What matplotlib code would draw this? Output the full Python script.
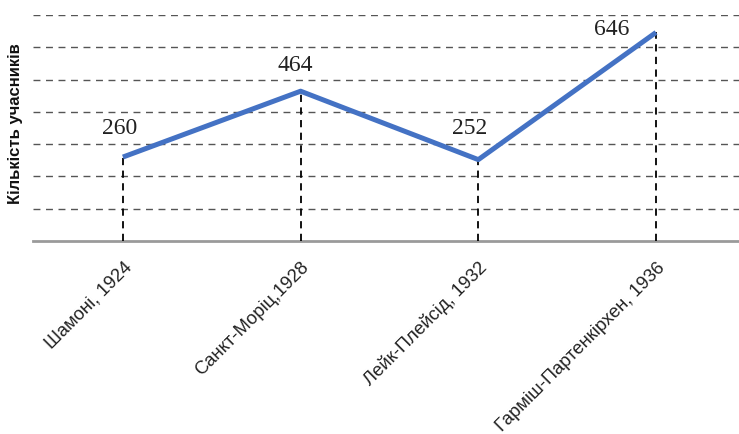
"""Line chart: number of participants at the Winter Olympics 1924-1936."""

import matplotlib

matplotlib.use("Agg")
import matplotlib.pyplot as plt

games = ["Шамоні, 1924", "Санкт-Моріц,1928", "Лейк-Плейсід, 1932", "Гарміш-Партенкірхен, 1936"]
participants = [260, 464, 252, 646]
grid_levels = [100, 200, 300, 400, 500, 600, 700]
y_label = "Кількість учасників"

# label offsets from each point, in pixels (dx, dy up)
label_offsets = [(-3, 29), (-5, 26), (-9, 31), (-44, 3)]


def main() -> None:
    fig = plt.figure(figsize=(7.39, 4.34), dpi=100)
    ax = fig.add_axes([33 / 739, 1 - 241 / 434, 706 / 739, 226 / 434])

    x = list(range(len(games)))

    for level in grid_levels:
        ax.axhline(level, color="#555555", lw=1.0, ls=(0, (5, 4)), zorder=1)
    ax.axhline(0, color="#9a9a9a", lw=2.0, zorder=2, clip_on=False)

    ax.vlines(x, 0, participants, colors="black", lw=1.3, linestyles=(0, (4, 3)), zorder=2)
    ax.plot(x, participants, color="#4472c4", lw=3.6, solid_capstyle="butt", zorder=3)

    px = 72 / fig.dpi
    for xi, val, (dx, dy) in zip(x, participants, label_offsets):
        ax.annotate(
            f"{val}",
            (xi, val),
            xytext=(dx * px, dy * px),
            textcoords="offset points",
            ha="center",
            va="center",
            fontsize=17,
            family="Liberation Serif",
            color="#222222",
        )

    ax.set_xlim(-0.506, 3.467)
    ax.set_ylim(0, 700)
    ax.set_xticks(x)
    ax.set_xticklabels(games, rotation=45, ha="right", rotation_mode="anchor",
                       fontsize=13.2, family="Liberation Sans", color="#222222")
    ax.tick_params(axis="x", length=0, pad=13)
    ax.set_yticks([])
    for spine in ax.spines.values():
        spine.set_visible(False)

    fig.text(16 / 739, 1 - 124 / 434, y_label, rotation=90, ha="center", va="center",
             fontsize=12, fontweight="bold", family="Liberation Sans", color="#111111")

    fig.savefig("out.png", dpi=100)
    plt.close(fig)


if __name__ == "__main__":
    main()
